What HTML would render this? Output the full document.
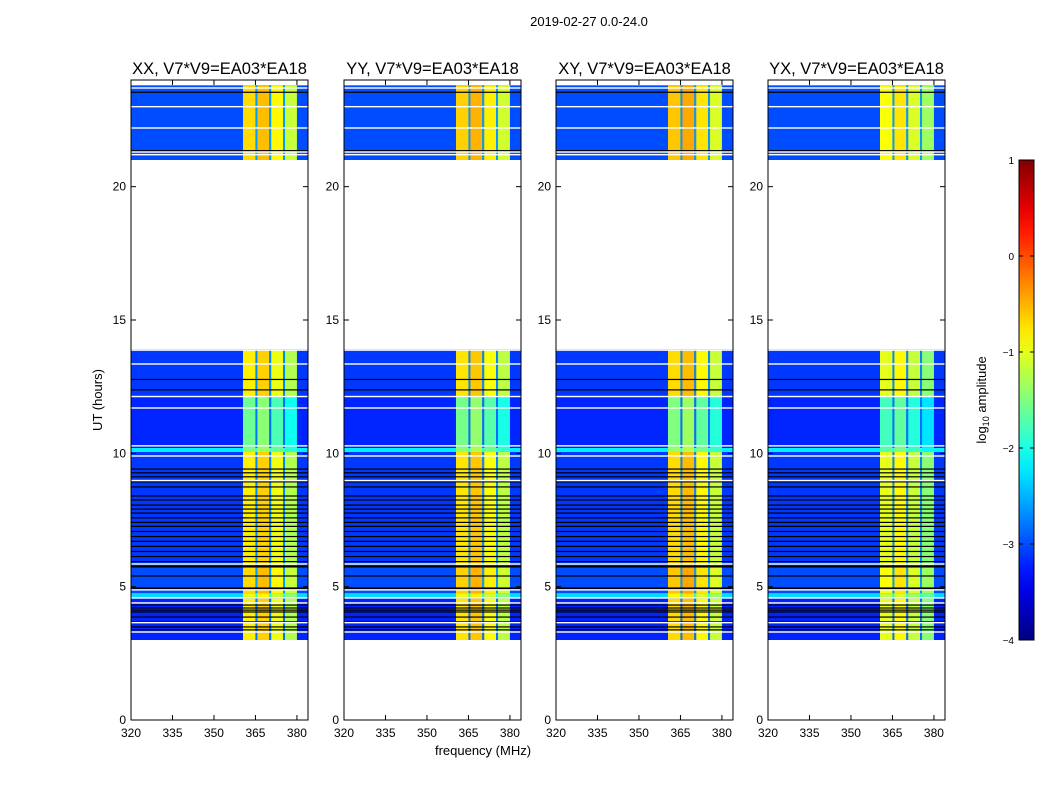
<!DOCTYPE html>
<html><head><meta charset="utf-8"><style>
body{margin:0;background:#fff;}
svg text{font-family:"Liberation Sans",sans-serif;fill:#000;}
</style></head><body>
<svg id="fig" width="1050" height="800" xmlns="http://www.w3.org/2000/svg">
<rect width="1050" height="800" fill="#fff"/>
<text x="589" y="26" font-size="13" text-anchor="middle">2019-02-27 0.0-24.0</text>
<text x="483" y="755" font-size="13" text-anchor="middle">frequency (MHz)</text>
<text transform="translate(102,400) rotate(-90)" font-size="13" text-anchor="middle">UT (hours)</text>
<text transform="translate(986,400) rotate(-90)" font-size="13" text-anchor="middle">log<tspan font-size="9" dy="3">10</tspan><tspan dy="-3"> amplitude</tspan></text>
</svg>
<script>
// data
const panelTitles = ["XX, V7*V9=EA03*EA18","YY, V7*V9=EA03*EA18","XY, V7*V9=EA03*EA18","YX, V7*V9=EA03*EA18"];
const panelLeft = [131,344,556,768];
const panelBandShift = [0, 0.05, 0.1, -0.2];
// row blocks: [startHour, endHour]
const blockStart = [21.0, 12.15, 10.2, 10.05, 5.8, 4.75, 4.55, 3.0];
const blockEnd   = [23.8, 13.9, 12.15, 10.2, 10.05, 5.8, 4.75, 4.55];
const blockBg    = [-3.0, -3.1, -3.2, -2.2, -3.1, -3.0, -2.3, -3.2];
const blockBand  = [-0.7, -0.8, -1.6, -1.5, -0.8, -0.7, -1.0, -0.8];
// band sub-columns (MHz)
const colStart  = [360.5, 365.0, 365.7, 370.0, 370.7, 375.0, 375.7];
const colEnd    = [365.0, 365.7, 370.0, 370.7, 375.0, 375.7, 380.0];
const colOffset = [0.0, -9, 0.15, -9, -0.15, -9, -0.45];
// flagged rows
const blackLines = [23.54,21.35,12.77,12.38,9.41,9.27,9.12,8.93,8.74,8.4,8.25,8.06,7.91,7.76,7.58,7.41,7.26,7.07,6.88,6.7,6.51,6.32,6.13,5.94,5.78,5.74,5.4,4.95,4.92,4.31,4.2,4.12,4.05,3.86,3.68,3.49,3.38];
const whiteLines = [23.7,23.0,22.2,21.3,21.2,13.87,13.35,12.13,11.7,10.28,9.9,8.98,5.85,4.88,4.58,4.39,3.65,3.3];
const xTicks = [320,335,350,365,380];
const yTicks = [0,5,10,15,20];
const cbTicks = [-4,-3,-2,-1,0,1];

const NS="http://www.w3.org/2000/svg";
const svg=document.getElementById('fig');
const PW=177, TOP=80, BOT=720;
const fMin=320, fMax=384, hMin=0, hMax=24;
function yS(h){return BOT-(h-hMin)/(hMax-hMin)*(BOT-TOP);}
function jet(v){
  let t=Math.max(0,Math.min(1,(v+4)/5));
  const c=x=>Math.round(255*Math.max(0,Math.min(1,x)));
  return `rgb(${c(1.5-Math.abs(4*t-3))},${c(1.5-Math.abs(4*t-2))},${c(1.5-Math.abs(4*t-1))})`;
}
function mk(tag,attrs,parent){const e=document.createElementNS(NS,tag);for(const k in attrs)e.setAttribute(k,attrs[k]);(parent||svg).appendChild(e);return e;}

panelTitles.forEach((title,p)=>{
  const L=panelLeft[p];
  const xS=f=>L+(f-fMin)/(fMax-fMin)*PW;
  const g=mk('g',{});
  
  
  blockStart.forEach((s,i)=>{
    const y0=yS(blockEnd[i]), y1=yS(s);
    const r=mk('rect',{x:L,y:y0,width:PW,height:y1-y0,fill:jet(blockBg[i])},g);
    
    
    colStart.forEach((c,j)=>{
      const v=colOffset[j]<-5?blockBg[i]+0.4:blockBand[i]+colOffset[j]+panelBandShift[p];
      const cr=mk('rect',{x:xS(c),y:y0,width:xS(colEnd[j])-xS(c),height:y1-y0,fill:jet(v)},g);
      
      
    });
  });
  blackLines.forEach(h=>{
    const l=mk('rect',{x:L,y:yS(h)-0.6,width:PW,height:1.2,fill:'#000'},g);
    
    
  });
  whiteLines.forEach(h=>{
    const l=mk('rect',{x:L,y:yS(h)-0.7,width:PW,height:1.4,fill:'#fff'},g);
    
    
  });
  const fr=mk('rect',{x:L,y:TOP,width:PW,height:BOT-TOP,fill:'none',stroke:'#000','stroke-width':1},g);
  
  
  xTicks.forEach(t=>{
    const x=xS(t);
    mk('line',{x1:x,x2:x,y1:BOT,y2:BOT-5,stroke:'#000'},g);
    mk('line',{x1:x,x2:x,y1:TOP,y2:TOP+5,stroke:'#000'},g);
    const tx=mk('text',{x:x,y:BOT+17,'font-size':12,'text-anchor':'middle'},g);
    tx.textContent=t;
    
    
  });
  yTicks.forEach(t=>{
    const y=yS(t);
    mk('line',{x1:L,x2:L+5,y1:y,y2:y,stroke:'#000'},g);
    mk('line',{x1:L+PW,x2:L+PW-5,y1:y,y2:y,stroke:'#000'},g);
    const tx=mk('text',{x:L-5,y:y+4,'font-size':12,'text-anchor':'end'},g);
    tx.textContent=t;
    
    
  });
  const tt=mk('text',{x:L+PW/2,y:74,'font-size':16.5,'text-anchor':'middle'},g);
  tt.textContent=title;
  
  
});

// colorbar
const CBX=1019, CBW=15, CBT=160, CBB=640;
const defs=mk('defs',{});
const grad=mk('linearGradient',{id:'jetg',x1:0,y1:1,x2:0,y2:0},defs);
for(let i=0;i<=20;i++){const v=-4+5*i/20;mk('stop',{offset:i/20,'stop-color':jet(v)},grad);}
const cb=mk('rect',{x:CBX,y:CBT,width:CBW,height:CBB-CBT,fill:'url(#jetg)',stroke:'#000','stroke-width':1});


cbTicks.forEach(t=>{
  const y=CBB-(t+4)/5*(CBB-CBT);
  mk('line',{x1:CBX,x2:CBX+4,y1:y,y2:y,stroke:'#000'});
  mk('line',{x1:CBX+CBW,x2:CBX+CBW-4,y1:y,y2:y,stroke:'#000'});
  const tx=mk('text',{x:CBX-5,y:y+4,'font-size':10,'text-anchor':'end'});
  tx.textContent=(t<0?'\u2212'+(-t):t);
  
  
});
</script>
</body></html>
